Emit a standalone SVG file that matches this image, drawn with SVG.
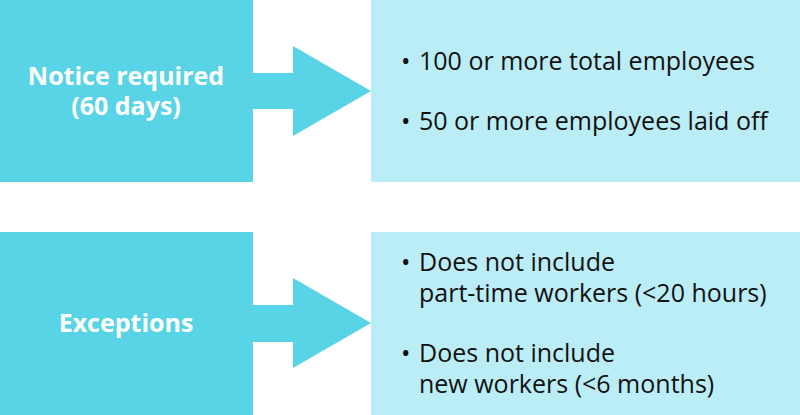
<svg xmlns="http://www.w3.org/2000/svg" width="800" height="415" viewBox="0 0 800 415">
<style>
.dark{fill:#59d3e6}
.light{fill:#bbedf6}
.title{font-family:"Open Sans","Liberation Sans",sans-serif;font-weight:bold;font-size:25px;fill:#ffffff;text-anchor:middle}
.item{font-family:"Open Sans","Liberation Sans",sans-serif;font-size:25px;fill:#111111}
</style>
<rect width="800" height="415" fill="#ffffff"/>
<g id="node-notice">
<rect class="dark" x="0" y="0" width="253" height="182"/>
<text class="title" x="126" y="85">Notice required</text>
<text class="title" x="126" y="115">(60 days)</text>
</g>
<g id="node-notice-details">
<rect class="light" x="371" y="0" width="429" height="182"/>
<text class="item" y="70"><tspan x="401">•</tspan><tspan x="419">100 or more total employees</tspan></text>
<text class="item" y="130"><tspan x="401">•</tspan><tspan x="419">50 or more employees laid off</tspan></text>
</g>
<g id="node-exceptions">
<rect class="dark" x="0" y="232" width="253" height="183"/>
<text class="title" x="126" y="332">Exceptions</text>
</g>
<g id="node-exceptions-details">
<rect class="light" x="371" y="232" width="429" height="183"/>
<text class="item" y="271"><tspan x="401">•</tspan><tspan x="419">Does not include</tspan></text>
<text class="item" x="419" y="302">part-time workers (&lt;20 hours)</text>
<text class="item" y="362"><tspan x="401">•</tspan><tspan x="419">Does not include</tspan></text>
<text class="item" x="419" y="393">new workers (&lt;6 months)</text>
</g>
<g id="connectors">
<polygon class="dark" points="253,73 293,73 293,46 371,91 293,136 293,109 253,109"/>
<polygon class="dark" points="253,305 293,305 293,278 371,323 293,368 293,342 253,342"/>
</g>
</svg>
